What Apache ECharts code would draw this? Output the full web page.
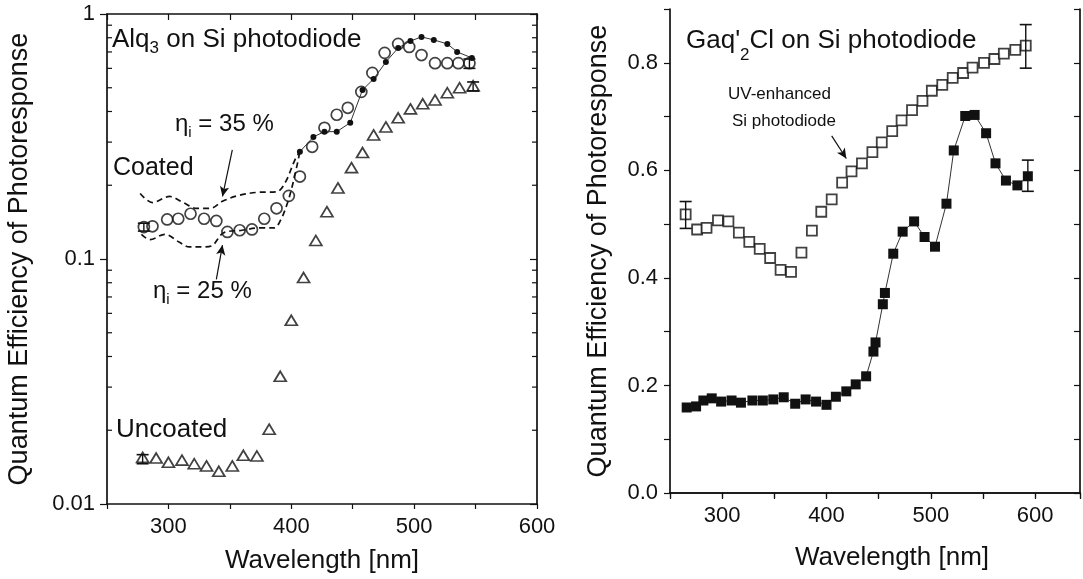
<!DOCTYPE html>
<html>
<head>
<meta charset="utf-8">
<script src="https://cdn.jsdelivr.net/npm/echarts@6/dist/echarts.min.js"></script>
<style>
html,body{margin:0;padding:0;background:#fff;}
#chart{width:1083px;height:579px;}
</style>
</head>
<body>
<div id="chart"></div>
<script>
// ---------- Left panel: Alq3 on Si photodiode (log scale) ----------
const coatedX  = [280,287,299,308,318,329,339,348,358,368,378,388,398,407,417,427,437,446,457,466,476,487,496,506,517,527,536,545];
const coatedQE = [0.135,0.136,0.145,0.146,0.153,0.146,0.143,0.129,0.131,0.132,0.146,0.161,0.181,0.217,0.287,0.343,0.388,0.414,0.481,0.575,0.694,0.755,0.734,0.68,0.63,0.63,0.63,0.63];

const calcX  = [407,418,427,437,448,458,467,477,487,497,506,516,527,535,547];
const calcQE = [0.274,0.315,0.331,0.331,0.36,0.49,0.543,0.637,0.727,0.776,0.806,0.784,0.755,0.70,0.662];

const eta35X  = [277,287,301,312,323,334,344,356,372,388,395,403,407];
const eta35QE = [0.185,0.170,0.180,0.170,0.161,0.161,0.172,0.181,0.187,0.188,0.205,0.254,0.274];

const eta25X  = [278,285,297,309,317,328,335,345,360,374,386,391,397,402,407];
const eta25QE = [0.126,0.120,0.126,0.117,0.112,0.112,0.113,0.128,0.131,0.134,0.134,0.143,0.170,0.21,0.274];

const uncoatedX  = [279,290,300,311,321,331,341,352,361,372,382,391,400,410,420,429,438,449,458,467,477,487,497,507,517,527,537,548];
const uncoatedQE = [0.0155,0.0154,0.0148,0.0151,0.0146,0.0143,0.0136,0.0143,0.0158,0.0157,0.0202,0.0332,0.0562,0.084,0.119,0.156,0.195,0.236,0.272,0.321,0.346,0.377,0.410,0.430,0.446,0.477,0.500,0.509];

// error bars: [x, low, high]
const leftErrorBars = [[280,0.130,0.140],[545,0.600,0.655],[279,0.0146,0.0159],[548,0.485,0.528]];

const logMinorTicks = [0.02,0.03,0.04,0.05,0.06,0.07,0.08,0.09,0.2,0.3,0.4,0.5,0.6,0.7,0.8,0.9];

// ---------- Right panel: Gaq'2Cl on Si photodiode ----------
const uvX  = [265,276,285,296,306,316,326,336,346,356,366,376,386,395,405,415,424,434,444,453,463,472,482,492,501,511,521,531,540,551,561,570,581,591];
const uvQE = [0.518,0.490,0.493,0.507,0.505,0.484,0.467,0.454,0.437,0.415,0.411,0.447,0.488,0.523,0.546,0.577,0.598,0.613,0.634,0.652,0.673,0.693,0.712,0.729,0.748,0.759,0.772,0.781,0.791,0.800,0.807,0.817,0.824,0.832];

const gaqX  = [266,275,282,290,299,309,318,329,339,349,359,370,380,390,400,409,419,428,438,445,447,454,456,464,473,484,494,504,515,522,533,542,553,562,572,583,593];
const gaqQE = [0.159,0.161,0.172,0.176,0.170,0.172,0.168,0.172,0.172,0.174,0.178,0.166,0.174,0.170,0.164,0.179,0.189,0.202,0.217,0.263,0.280,0.351,0.372,0.445,0.486,0.505,0.476,0.458,0.538,0.637,0.701,0.703,0.669,0.613,0.581,0.572,0.589];

const rightErrorBars = [[265,0.492,0.542],[591,0.790,0.871],[593,0.561,0.619]];

const leftXTicks = [300,400,500,600];
const rightYTicks = [0.0,0.2,0.4,0.6,0.8];

// ---------------------------------------------------------
const INK = '#111111';
const FONT = '"Liberation Sans", Arial, sans-serif';
const zip = (xs, ys) => xs.map((x, i) => [x, ys[i]]);

function errorBarRender(params, api) {
  const x = api.value(0);
  const lo = api.coord([x, api.value(1)]);
  const hi = api.coord([x, api.value(2)]);
  const w = 6;
  return {
    type: 'group',
    children: [
      {type:'line', shape:{x1:lo[0],y1:lo[1],x2:hi[0],y2:hi[1]}, style:{stroke:INK,lineWidth:1.4}},
      {type:'line', shape:{x1:lo[0]-w,y1:lo[1],x2:lo[0]+w,y2:lo[1]}, style:{stroke:INK,lineWidth:1.6}},
      {type:'line', shape:{x1:hi[0]-w,y1:hi[1],x2:hi[0]+w,y2:hi[1]}, style:{stroke:INK,lineWidth:1.6}}
    ]
  };
}

const LEFT_MIN = 250, LEFT_MAX = 600, RIGHT_MIN = 250, RIGHT_MAX = 643;

function logMinorRender(params, api) {
  const v = api.value(1);
  const pl = api.coord([LEFT_MIN, v]);
  const pr = api.coord([LEFT_MAX, v]);
  const len = 5;
  return {
    type: 'group',
    children: [
      {type:'line', shape:{x1:pl[0],y1:pl[1],x2:pl[0]+len,y2:pl[1]}, style:{stroke:INK,lineWidth:1.2}},
      {type:'line', shape:{x1:pr[0]-len,y1:pr[1],x2:pr[0],y2:pr[1]}, style:{stroke:INK,lineWidth:1.2}}
    ]
  };
}

const axisLineStyle = {lineStyle:{color:INK,width:1.7}};
const tickLabel = {color:INK, fontFamily:FONT, fontSize:22};

const option = {
  animation: false,
  backgroundColor: '#ffffff',
  grid: [
    {left:107, top:14, width:430, height:491},
    {left:670, top:9, width:410, height:484}
  ],
  xAxis: [
    {type:'value', gridIndex:0, min:LEFT_MIN, max:LEFT_MAX, interval:50, position:'bottom',
     axisLine:axisLineStyle, splitLine:{show:false},
     axisTick:{show:true, inside:false, length:5, lineStyle:{color:INK,width:1.2}},
     axisLabel:Object.assign({margin:12, formatter:v => leftXTicks.includes(v) ? String(v) : ''}, tickLabel),
     name:'Wavelength [nm]', nameLocation:'middle', nameGap:44,
     nameTextStyle:{color:INK, fontFamily:FONT, fontSize:26}},
    {type:'value', gridIndex:0, min:LEFT_MIN, max:LEFT_MAX, interval:50, position:'top',
     axisLine:axisLineStyle, splitLine:{show:false},
     axisTick:{show:true, inside:true, length:6, lineStyle:{color:INK,width:1.2}},
     axisLabel:{show:false}},
    {type:'value', gridIndex:1, min:RIGHT_MIN, max:RIGHT_MAX, interval:50, position:'bottom',
     axisLine:axisLineStyle, splitLine:{show:false},
     axisTick:{show:true, inside:false, length:5, lineStyle:{color:INK,width:1.2}},
     axisLabel:Object.assign({margin:12, formatter:v => (v % 100 === 0) ? String(v) : ''}, tickLabel),
     name:'Wavelength [nm]', nameLocation:'middle', nameGap:52,
     nameTextStyle:{color:INK, fontFamily:FONT, fontSize:26, padding:[0,0,0,34]}},
    {type:'value', gridIndex:1, min:RIGHT_MIN, max:RIGHT_MAX, interval:50, position:'top',
     axisLine:axisLineStyle, splitLine:{show:false},
     axisTick:{show:true, inside:true, length:6, lineStyle:{color:INK,width:1.2}},
     axisLabel:{show:false}}
  ],
  yAxis: [
    {type:'log', gridIndex:0, min:0.01, max:1, logBase:10, position:'left',
     axisLine:axisLineStyle, splitLine:{show:false},
     axisTick:{show:true, inside:false, length:7, lineStyle:{color:INK,width:1.2}},
     axisLabel:Object.assign({margin:12, formatter:v => String(v)}, tickLabel),
     name:'Quantum Efficiency of Photoresponse', nameLocation:'middle', nameGap:74, nameRotate:90,
     nameTextStyle:{color:INK, fontFamily:FONT, fontSize:27}},
    {type:'log', gridIndex:0, min:0.01, max:1, logBase:10, position:'right',
     axisLine:axisLineStyle, splitLine:{show:false},
     axisTick:{show:true, inside:true, length:7, lineStyle:{color:INK,width:1.2}},
     axisLabel:{show:false}},
    {type:'value', gridIndex:1, min:0, max:0.9, interval:0.1, position:'left',
     axisLine:axisLineStyle, splitLine:{show:false},
     axisTick:{show:true, inside:false, length:6, lineStyle:{color:INK,width:1.2}},
     axisLabel:Object.assign({margin:12, formatter:v => {
        const r = Math.round(v * 10) / 10;
        return rightYTicks.some(t => Math.abs(t - r) < 1e-6) ? r.toFixed(1) : '';
     }}, tickLabel),
     name:'Quantum Efficiency of Photoresponse', nameLocation:'middle', nameGap:58, nameRotate:90,
     nameTextStyle:{color:INK, fontFamily:FONT, fontSize:27}},
    {type:'value', gridIndex:1, min:0, max:0.9, interval:0.1, position:'right',
     axisLine:axisLineStyle, splitLine:{show:false},
     axisTick:{show:true, inside:true, length:6, lineStyle:{color:INK,width:1.2}},
     axisLabel:{show:false}}
  ],
  series: [
    // ----- left panel -----
    {type:'custom', name:'logMinor', xAxisIndex:0, yAxisIndex:0, silent:true, clip:false,
     renderItem:logMinorRender, data:logMinorTicks.map(v => [LEFT_MIN, v]), z:1},
    {type:'line', name:'η=35%', xAxisIndex:0, yAxisIndex:0, data:zip(eta35X, eta35QE),
     showSymbol:false, symbol:'none', smooth:0.35,
     lineStyle:{color:INK, width:1.7, type:[6,4]},
     markLine:{silent:true, symbol:['none','arrow'], symbolSize:[7,10],
       label:{show:false}, lineStyle:{color:INK, width:1.2, type:'solid'},
       data:[
         [{coord:[352,0.279]},{coord:[344,0.180]}],
         [{coord:[339,0.0826]},{coord:[344,0.114]}]
       ]}},
    {type:'line', name:'η=25%', xAxisIndex:0, yAxisIndex:0, data:zip(eta25X, eta25QE),
     showSymbol:false, symbol:'none', smooth:0.35,
     lineStyle:{color:INK, width:1.7, type:[6,4]}},
    {type:'line', name:'calc', xAxisIndex:0, yAxisIndex:0, data:zip(calcX, calcQE),
     symbol:'circle', symbolSize:6, itemStyle:{color:INK},
     lineStyle:{color:'#333', width:1}},
    {type:'scatter', name:'Coated', xAxisIndex:0, yAxisIndex:0, data:zip(coatedX, coatedQE),
     symbol:'circle', symbolSize:11,
     itemStyle:{color:'rgba(255,255,255,0)', borderColor:INK, borderWidth:1.7}},
    {type:'scatter', name:'Uncoated', xAxisIndex:0, yAxisIndex:0, data:zip(uncoatedX, uncoatedQE),
     symbol:'triangle', symbolSize:[12,10],
     itemStyle:{color:'#fff', borderColor:INK, borderWidth:1.7}},
    {type:'custom', name:'errLeft', xAxisIndex:0, yAxisIndex:0, silent:true,
     renderItem:errorBarRender, data:leftErrorBars, z:5},
    // ----- right panel -----
    {type:'scatter', name:'UV-enhanced Si photodiode', xAxisIndex:2, yAxisIndex:2, data:zip(uvX, uvQE),
     symbol:'rect', symbolSize:10,
     itemStyle:{color:'#fff', borderColor:INK, borderWidth:1.8},
     markLine:{silent:true, symbol:['none','arrow'], symbolSize:[7,10],
       label:{show:false}, lineStyle:{color:INK, width:1.2, type:'solid'},
       data:[[{coord:[405,0.664]},{coord:[419,0.622]}]]}},
    {type:'line', name:"Gaq'2Cl", xAxisIndex:2, yAxisIndex:2, data:zip(gaqX, gaqQE),
     symbol:'rect', symbolSize:10, itemStyle:{color:INK},
     lineStyle:{color:'#333', width:1}},
    {type:'custom', name:'errRight', xAxisIndex:2, yAxisIndex:2, silent:true,
     renderItem:errorBarRender, data:rightErrorBars, z:5}
  ],
  graphic: [
    {type:'text', x:112, y:40, style:{
      text:'{a|Alq}{s|3}{a| on Si photodiode}', fill:INK, verticalAlign:'middle',
      rich:{a:{fontFamily:FONT, fontSize:26, lineHeight:34, fill:INK},
            s:{fontFamily:FONT, fontSize:17, lineHeight:17, verticalAlign:'bottom', fill:INK}}}},
    {type:'text', x:175, y:124, style:{
      text:'{a|η}{s|i}{a| = 35 %}', fill:INK, verticalAlign:'middle',
      rich:{a:{fontFamily:FONT, fontSize:24, lineHeight:32, fill:INK},
            s:{fontFamily:FONT, fontSize:15, lineHeight:15, verticalAlign:'bottom', fill:INK}}}},
    {type:'text', x:153, y:291, style:{
      text:'{a|η}{s|i}{a| = 25 %}', fill:INK, verticalAlign:'middle',
      rich:{a:{fontFamily:FONT, fontSize:24, lineHeight:32, fill:INK},
            s:{fontFamily:FONT, fontSize:15, lineHeight:15, verticalAlign:'bottom', fill:INK}}}},
    {type:'text', x:113, y:168, style:{text:'Coated', fill:INK, font:'25px ' + FONT, verticalAlign:'middle'}},
    {type:'text', x:116, y:430, style:{text:'Uncoated', fill:INK, font:'26px ' + FONT, verticalAlign:'middle'}},
    {type:'text', x:686, y:41, style:{
      text:"{a|Gaq'}{s|2}{a|Cl on Si photodiode}", fill:INK, verticalAlign:'middle',
      rich:{a:{fontFamily:FONT, fontSize:26, lineHeight:46, fill:INK},
            s:{fontFamily:FONT, fontSize:17, lineHeight:17, verticalAlign:'bottom', fill:INK}}}},
    {type:'text', x:728, y:94, style:{text:'UV-enhanced', fill:INK, font:'17px ' + FONT, verticalAlign:'middle'}},
    {type:'text', x:732, y:121, style:{text:'Si photodiode', fill:INK, font:'17px ' + FONT, verticalAlign:'middle'}}
  ]
};

const chart = echarts.init(document.getElementById('chart'), null, {renderer:'canvas'});
chart.setOption(option);
</script>
</body>
</html>
